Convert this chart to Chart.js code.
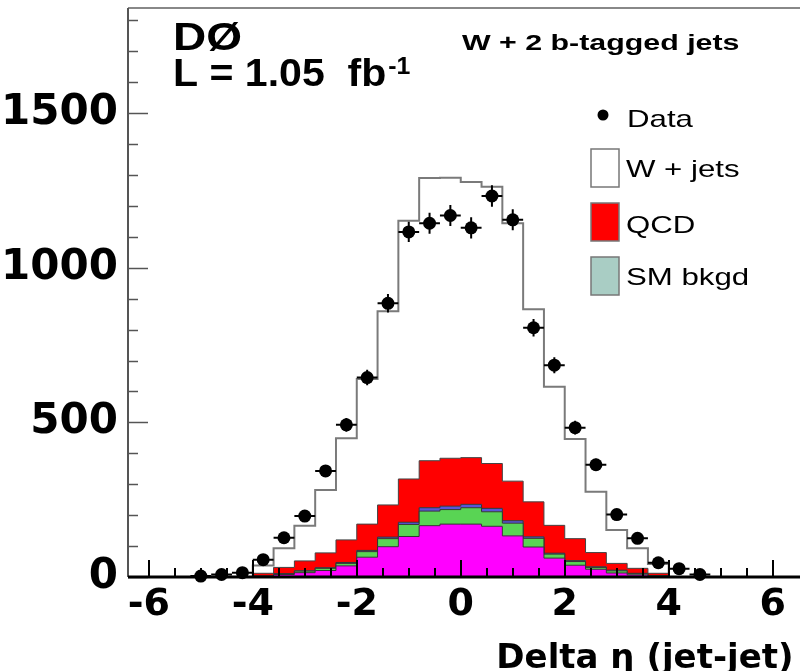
<!DOCTYPE html>
<html>
<head>
<meta charset="utf-8">
<script src="https://cdn.jsdelivr.net/npm/chart.js@4.4.1/dist/chart.umd.min.js"></script>
<style>
  html, body { margin: 0; padding: 0; background: #fff; }
  #marco { width: 800px; height: 671px; position: relative; }
</style>
</head>
<body>
<div id="marco"><canvas id="lienzoGrafica"></canvas></div>
<script>
'use strict';

// centros de los bins en Delta eta (ancho 0.4)
const binCentros = [-5.0, -4.6, -4.2, -3.8, -3.4, -3.0, -2.6, -2.2, -1.8, -1.4, -1.0, -0.6, -0.2,
                    0.2, 0.6, 1.0, 1.4, 1.8, 2.2, 2.6, 3.0, 3.4, 3.8, 4.2, 4.6, 5.0];
const anchoBin = 0.4;

// componentes apiladas (de abajo hacia arriba)
const fondoMagenta = [0, 0, 0, 2, 8, 14, 21, 36, 64, 98, 131, 166, 171,
                      171, 164, 133, 97, 61, 38, 25, 13, 7, 2, 0, 0, 0];
const fondoVerde   = [0, 0, 0, 1, 2, 5, 7, 8, 18, 26, 39, 47, 47,
                      53, 47, 41, 28, 13, 12, 6, 7, 4, 2, 0, 0, 0];
const fondoAzul    = [0, 0, 0, 0, 1, 1, 2, 3, 4, 5, 7, 11, 11,
                      11, 11, 8, 5, 3, 3, 2, 2, 1, 0, 0, 0, 0];
const qcd          = [0, 0, 0, 9, 20, 32, 48, 73, 85, 104, 140, 152, 155,
                      151, 145, 128, 113, 90, 71, 46, 22, 16, 8, 0, 0, 0];
const wJets        = [0, 0, 0, 25, 62, 114, 203, 329, 469, 626, 835, 914, 907,
                      891, 895, 834, 623, 448, 322, 197, 108, 65, 30, 0, 0, 0];

// datos con su error
const datos    = [3, 8, 14, 56, 127, 197, 343, 492, 645, 885, 1116, 1144, 1169,
                  1129, 1232, 1155, 806, 685, 483, 363, 202, 125, 46, 27, 8, null];
const errDatos = [2, 3, 4, 7, 11, 14, 19, 22, 25, 30, 33, 34, 34,
                  34, 35, 34, 28, 26, 22, 19, 14, 11, 7, 5, 3, 0];

const ticksY = [0, 500, 1000, 1500];

// convierte un array de bins en puntos de escalera (borde izquierdo + cierre)
function escalera(valores) {
    const pts = valores.map((v, i) => ({ x: binCentros[i] - anchoBin / 2, y: v }));
    pts.push({ x: binCentros[binCentros.length - 1] + anchoBin / 2, y: 0 });
    return pts;
}

function texto(ctx, txt, x, y, font, sx) {
    ctx.save();
    ctx.font = font;
    ctx.translate(x, y);
    ctx.scale(sx, 1);
    ctx.fillText(txt, 0, 0);
    const w = ctx.measureText(txt).width * sx;
    ctx.restore();
    return w;
}

const decoracion = {
    id: 'decoracion',
    afterDatasetsDraw(chart) {
        const { ctx, chartArea: a, scales: { x, y } } = chart;
        ctx.save();

        // barras de error de los datos
        ctx.strokeStyle = '#000';
        ctx.lineWidth = 2;
        datos.forEach((v, i) => {
            if (v == null) return;
            const px = x.getPixelForValue(binCentros[i]);
            const py = y.getPixelForValue(v);
            ctx.beginPath();
            ctx.moveTo(x.getPixelForValue(binCentros[i] - anchoBin / 2), py);
            ctx.lineTo(x.getPixelForValue(binCentros[i] + anchoBin / 2), py);
            ctx.moveTo(px, y.getPixelForValue(v - errDatos[i]));
            ctx.lineTo(px, y.getPixelForValue(v + errDatos[i]));
            ctx.stroke();
        });

        // ejes
        ctx.strokeStyle = '#888';
        ctx.lineWidth = 2;
        ctx.beginPath();
        ctx.moveTo(a.left, a.top);
        ctx.lineTo(800, a.top);
        ctx.stroke();
        ctx.strokeStyle = '#555';
        ctx.beginPath();
        ctx.moveTo(a.left, a.top);
        ctx.lineTo(a.left, a.bottom);
        ctx.stroke();

        // marcas del eje Y hacia dentro
        ctx.lineWidth = 1.5;
        for (let v = 0; v <= y.max; v += 100) {
            const py = Math.round(y.getPixelForValue(v)) + 0.5;
            const largo = v % 500 === 0 ? 20 : 10;
            ctx.beginPath();
            ctx.moveTo(a.left, py);
            ctx.lineTo(a.left + largo, py);
            ctx.stroke();
        }

        // marcas del eje X hacia dentro
        ctx.strokeStyle = '#000';
        ctx.lineWidth = 2;
        for (let v = -6; v <= 6.001; v += 0.5) {
            const px = Math.round(x.getPixelForValue(v));
            const largo = Math.abs(Math.round(v) % 2) === 0 && Math.abs(v - Math.round(v)) < 1e-6 ? 17 : 9;
            ctx.beginPath();
            ctx.moveTo(px, a.bottom);
            ctx.lineTo(px, a.bottom - largo);
            ctx.stroke();
        }

        ctx.lineWidth = 3;
        ctx.beginPath();
        ctx.moveTo(a.left, a.bottom);
        ctx.lineTo(800, a.bottom);
        ctx.stroke();
        ctx.restore();
    },
    afterDraw(chart) {
        const ctx = chart.ctx;
        ctx.save();
        ctx.fillStyle = '#000';
        ctx.textBaseline = 'alphabetic';
        ctx.textAlign = 'left';

        texto(ctx, 'DØ', 173, 50, 'bold 39px "Liberation Sans"', 1.18);
        const w = texto(ctx, 'L = 1.05  fb', 173, 86, 'bold 38px "Liberation Sans"', 1.08);
        texto(ctx, '-1', 173 + w + 2, 74, 'bold 23px "Liberation Sans"', 1.08);
        texto(ctx, 'W + 2 b-tagged jets', 462, 50, 'bold 22px "Liberation Sans"', 1.38);

        // leyenda
        ctx.beginPath();
        ctx.arc(603, 115, 5.5, 0, Math.PI * 2);
        ctx.fill();
        const cajas = [
            { y: 149, color: '#ffffff' },
            { y: 203, color: '#ff0000' },
            { y: 257, color: '#a9cdc4' }
        ];
        ctx.lineWidth = 1.5;
        ctx.strokeStyle = '#777';
        cajas.forEach(c => {
            ctx.fillStyle = c.color;
            ctx.fillRect(591, c.y, 28, 38);
            ctx.strokeRect(591, c.y, 28, 38);
        });
        ctx.fillStyle = '#000';
        const fLeyenda = '24px "Liberation Sans"';
        texto(ctx, 'Data', 627, 127, fLeyenda, 1.3);
        texto(ctx, 'W + jets', 626, 177, fLeyenda, 1.3);
        texto(ctx, 'QCD', 626, 233, fLeyenda, 1.3);
        texto(ctx, 'SM bkgd', 626, 285, fLeyenda, 1.3);
        ctx.restore();
    }
};

const capa = (etiqueta, valores, relleno, borde, ancho, fill) => ({
    label: etiqueta,
    data: escalera(valores),
    stepped: true,
    backgroundColor: relleno,
    borderColor: borde,
    borderWidth: ancho,
    pointRadius: 0,
    fill: fill
});

const ctx = document.getElementById('lienzoGrafica');

const myChart = new Chart(ctx, {
    type: 'line',
    data: {
        datasets: [
            capa('SM bkgd (magenta)', fondoMagenta, '#ff00ff', '#333', 1, 'origin'),
            capa('SM bkgd (verde)', fondoVerde, 'rgb(89, 212, 84)', '#333', 1, '-1'),
            capa('SM bkgd (azul)', fondoAzul, 'rgb(89, 84, 216)', '#333', 1, '-1'),
            capa('QCD', qcd, '#ff0000', '#444', 1, '-1'),
            capa('W + jets', wJets, '#ffffff', '#7a7a7a', 2, '-1'),
            {
                label: 'Data',
                data: datos.map((v, i) => ({ x: binCentros[i], y: v })),
                stack: 'data',
                order: -1,
                showLine: false,
                pointRadius: 6.5,
                pointBackgroundColor: '#000',
                pointBorderWidth: 0,
                clip: false
            }
        ]
    },
    options: {
        responsive: true,
        maintainAspectRatio: false,
        animation: false,
        layout: { padding: { top: 8, right: 2 } },
        plugins: {
            legend: { display: false },
            tooltip: { enabled: false }
        },
        scales: {
            x: {
                type: 'linear',
                min: -6.4,
                max: 6.4,
                grid: { display: false, drawTicks: false },
                border: { display: false },
                ticks: {
                    stepSize: 2,
                    includeBounds: false,
                    maxRotation: 0,
                    autoSkip: false,
                    padding: 5,
                    color: '#000',
                    font: { family: 'DejaVu Sans', weight: 'bold', size: 38 }
                },
                title: {
                    display: true,
                    text: 'Delta η (jet-jet)',
                    align: 'end',
                    color: '#000',
                    padding: 0,
                    font: { family: 'DejaVu Sans', weight: 'bold', size: 34, lineHeight: 0.7 }
                },
                afterFit(scale) {
                    scale.height = 94;
                    scale.paddingLeft = 0;
                    scale.paddingRight = 0;
                }
            },
            y: {
                stacked: true,
                min: 0,
                max: 1840,
                grid: { display: false, drawTicks: false },
                border: { display: false },
                afterBuildTicks(scale) { scale.ticks = ticksY.map(v => ({ value: v })); },
                ticks: {
                    padding: 10,
                    color: '#000',
                    callback: v => String(v),
                    font: { family: 'DejaVu Sans', weight: 'bold', size: 42 }
                },
                afterFit(scale) {
                    scale.width = 128;
                    scale.paddingTop = 0;
                    scale.paddingBottom = 0;
                }
            }
        }
    },
    plugins: [decoracion]
});
</script>
</body>
</html>
